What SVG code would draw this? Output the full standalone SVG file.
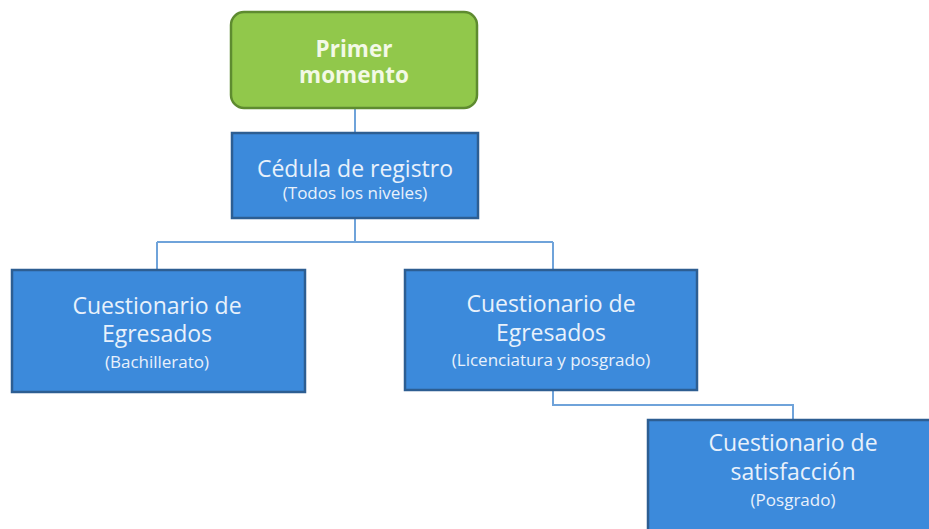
<svg xmlns="http://www.w3.org/2000/svg" width="929" height="529" viewBox="0 0 929 529">
<style>
.blue{fill:#3C8ADB;stroke:#2D5E92;stroke-width:2.5}
.green{fill:#91C84B;stroke:#5E8B30;stroke-width:2.5}
.t{font-family:"Open Sans","Liberation Sans",sans-serif;fill:#E8F1FB;text-anchor:middle}
.big{font-size:23px}
.small{font-size:17px}
.gt{font-family:"Open Sans","Liberation Sans",sans-serif;fill:#F3F9E6;text-anchor:middle;font-weight:bold;font-size:22.5px}
.c{fill:none;stroke:#6FA3DA;stroke-width:2}
</style>
<rect width="929" height="529" fill="#FFFFFF"/>
<g id="connectors">
<path class="c" d="M355 108 V133"/>
<path class="c" d="M355 218 V242 M157 242 H553 M157 242 V270 M553 242 V270"/>
<path class="c" d="M553 390 V405 H793 V420"/>
</g>
<g id="primer">
<rect class="green" x="231" y="12" width="246" height="96" rx="13"/>
<text class="gt" x="354" y="57">Primer</text>
<text class="gt" x="354" y="83">momento</text>
</g>
<g id="cedula">
<rect class="blue" x="232" y="133" width="246" height="85"/>
<text class="t big" x="355" y="177">Cédula de registro</text>
<text class="t small" x="355" y="199">(Todos los niveles)</text>
</g>
<g id="bachillerato">
<rect class="blue" x="12" y="270" width="293" height="122"/>
<text class="t big" x="157" y="314">Cuestionario de</text>
<text class="t big" x="157" y="342">Egresados</text>
<text class="t small" x="157" y="368">(Bachillerato)</text>
</g>
<g id="licenciatura">
<rect class="blue" x="405" y="270" width="292" height="120"/>
<text class="t big" x="551" y="312">Cuestionario de</text>
<text class="t big" x="551" y="341">Egresados</text>
<text class="t small" x="551" y="366">(Licenciatura y posgrado)</text>
</g>
<g id="satisfaccion">
<rect class="blue" x="648" y="420" width="292" height="120"/>
<text class="t big" x="793" y="451">Cuestionario de</text>
<text class="t big" x="793" y="480">satisfacción</text>
<text class="t small" x="793" y="506">(Posgrado)</text>
</g>
</svg>
